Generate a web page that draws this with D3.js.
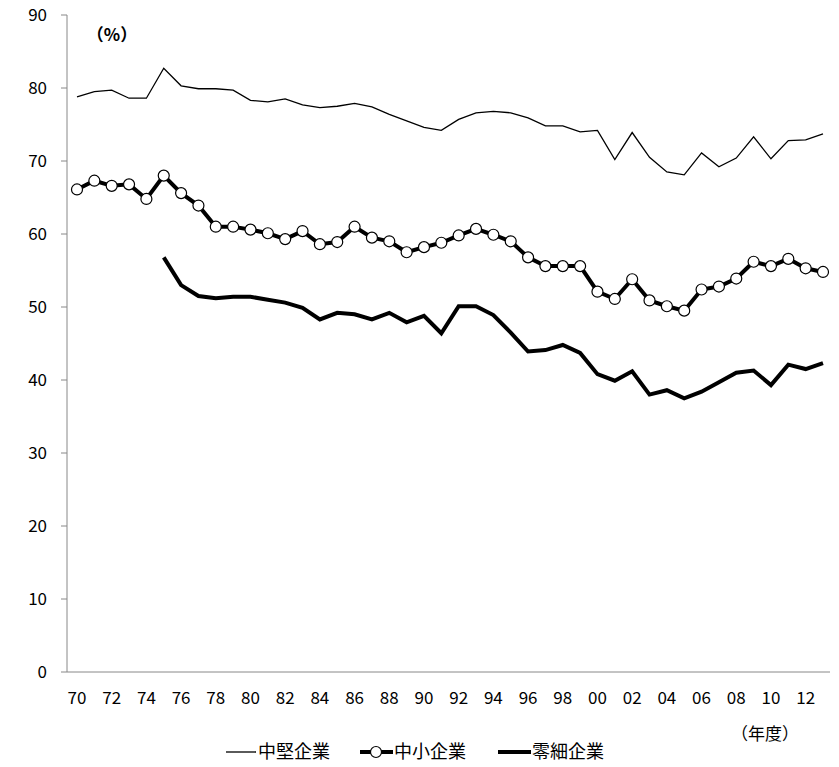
<!DOCTYPE html>
<html><head><meta charset="utf-8">
<script src="https://cdn.jsdelivr.net/npm/d3@7"></script>
<style>body{margin:0;background:#fff}text{font-family:"Noto Sans CJK JP","Noto Sans",sans-serif;fill:#000}</style>
</head><body><svg id="c" width="839" height="767"></svg>
<script>
const years = d3.range(1970, 2014);
const chuken = [78.8,79.5,79.7,78.6,78.6,82.7,80.3,79.9,79.9,79.7,78.3,78.1,78.5,77.7,77.3,77.5,77.9,77.4,76.4,75.5,74.6,74.2,75.7,76.6,76.8,76.6,75.9,74.8,74.8,74.0,74.2,70.2,73.9,70.5,68.5,68.1,71.1,69.2,70.4,73.3,70.3,72.8,72.9,73.7];
const chusho = [66.1,67.3,66.6,66.8,64.8,68.0,65.6,63.9,61.0,61.0,60.6,60.1,59.3,60.4,58.6,58.9,61.0,59.5,59.0,57.5,58.2,58.8,59.8,60.7,59.9,59.0,56.8,55.6,55.6,55.6,52.1,51.1,53.8,50.9,50.1,49.5,52.4,52.8,53.9,56.2,55.6,56.6,55.3,54.8];
const reisai = [null,null,null,null,null,56.8,53.0,51.5,51.2,51.4,51.4,51.0,50.6,49.9,48.3,49.2,49.0,48.3,49.2,47.9,48.8,46.4,50.1,50.1,48.9,46.5,43.9,44.1,44.8,43.7,40.8,39.9,41.2,38.0,38.6,37.5,38.4,39.7,41.0,41.3,39.3,42.1,41.5,42.3];
const yTicks = d3.range(0, 100, 10);

const svg = d3.select("#c");
const x = d3.scaleLinear().domain([1970, 2013]).range([77, 823]);
const y = d3.scaleLinear().domain([0, 90]).range([672, 15]);

svg.append("line").attr("x1", 67).attr("x2", 67).attr("y1", 15).attr("y2", 672).attr("stroke", "#888");
svg.append("line").attr("x1", 67).attr("x2", 830).attr("y1", 672).attr("y2", 672).attr("stroke", "#888");
yTicks.forEach(t => {
  svg.append("line").attr("x1", 61).attr("x2", 67).attr("y1", y(t)).attr("y2", y(t)).attr("stroke", "#888");
  svg.append("text").attr("x", 47).attr("y", y(t) + 6).attr("text-anchor", "end").attr("font-size", 17).text(t);
});
years.filter(v => v % 2 === 0).forEach(v => {
  svg.append("text").attr("x", x(v)).attr("y", 704).attr("text-anchor", "middle").attr("font-size", 17)
    .text(String(v % 100).padStart(2, "0"));
});
svg.append("text").attr("x", 112).attr("y", 41).attr("text-anchor", "middle").attr("font-size", 17).attr("font-weight", "bold").text("（%）");
svg.append("text").attr("x", 765).attr("y", 740).attr("text-anchor", "middle").attr("font-size", 17).text("（年度）");

const line = d3.line().defined(d => d[1] != null).x(d => x(d[0])).y(d => y(d[1]));
const zip = arr => years.map((yr, i) => [yr, arr[i]]);
svg.append("path").attr("d", line(zip(chuken))).attr("fill", "none").attr("stroke", "#000").attr("stroke-width", 1.3);
svg.append("path").attr("d", line(zip(chusho))).attr("fill", "none").attr("stroke", "#000").attr("stroke-width", 4);
svg.selectAll("circle.m").data(zip(chusho)).enter().append("circle")
  .attr("cx", d => x(d[0])).attr("cy", d => y(d[1])).attr("r", 5.5)
  .attr("fill", "#fff").attr("stroke", "#000").attr("stroke-width", 1.2);
svg.append("path").attr("d", line(zip(reisai))).attr("fill", "none").attr("stroke", "#000").attr("stroke-width", 4);

const lg = svg.append("g").attr("font-size", 18);
lg.append("line").attr("x1", 226).attr("x2", 256).attr("y1", 752).attr("y2", 752).attr("stroke", "#000").attr("stroke-width", 1.3);
lg.append("text").attr("x", 258).attr("y", 758).text("中堅企業");
lg.append("line").attr("x1", 360).attr("x2", 393).attr("y1", 752).attr("y2", 752).attr("stroke", "#000").attr("stroke-width", 4);
lg.append("circle").attr("cx", 376).attr("cy", 752).attr("r", 5.5).attr("fill", "#fff").attr("stroke", "#000").attr("stroke-width", 1.2);
lg.append("text").attr("x", 394).attr("y", 758).text("中小企業");
lg.append("line").attr("x1", 498).attr("x2", 531).attr("y1", 752).attr("y2", 752).attr("stroke", "#000").attr("stroke-width", 4);
lg.append("text").attr("x", 532).attr("y", 758).text("零細企業");
</script></body></html>
